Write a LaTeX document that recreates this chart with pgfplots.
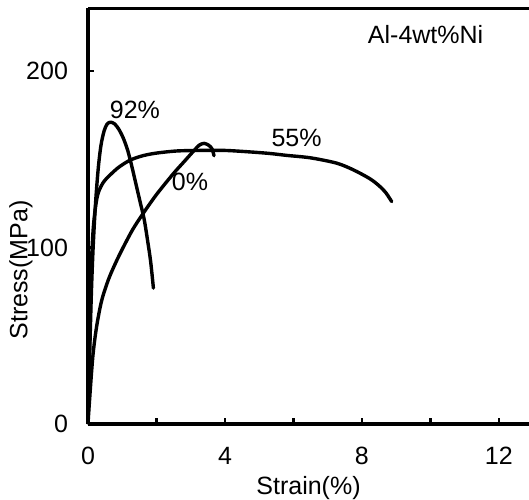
\documentclass[border=0pt]{standalone}
\usepackage{fontspec}
\setmainfont{Liberation Sans}
\usepackage{pgfplots}
\pgfplotsset{compat=1.18}

\begin{document}
\begin{tikzpicture}
\begin{axis}[name=ax,scale only axis,width=220.5pt,height=208pt,
xmin=0,xmax=12.88,ymin=0,ymax=235.7,
axis lines*=left,axis line style={-,line width=1.8pt},
xtick={0,2,...,12},xticklabels={0,,4,,8,,12},
ytick={0,100,200},
tick align=inside,major tick length=3.2pt,tick style={line width=1.3pt,black},
/pgf/number format/assume math mode=true,
tick label style={font=\fontsize{12.5}{14}\selectfont},
yticklabel style={xshift=-6.5pt},
xticklabel style={yshift=-8pt},
label style={font=\fontsize{12.5}{14}\selectfont},
xlabel={Strain(\%)},ylabel={Stress(MPa)},
every axis x label/.append style={at={(axis description cs:0.5,-0.153)},anchor=center},
every axis y label/.append style={at={(axis description cs:-0.152,0.37)},anchor=center},
curve/.style={black,line width=1.7pt,line cap=round,line join=round,no marks,smooth}]

% 92%
\addplot[curve] coordinates {(0,0) (0.05,40) (0.1,75) (0.15,100) (0.22,125) (0.3,145) (0.38,158) (0.47,166) (0.56,170) (0.66,171) (0.78,170) (0.9,167) (1.03,162) (1.16,155) (1.28,146) (1.4,136) (1.52,126) (1.64,116) (1.74,104) (1.83,92) (1.91,77)};
% 55%
\addplot[curve] coordinates {(0,0) (0.05,50) (0.1,90) (0.15,110) (0.22,123) (0.3,131) (0.45,137) (0.64,141) (0.9,145.5) (1.23,149.5) (1.6,152) (2.0,153.5) (2.6,154.7) (3.3,155) (4.0,155) (4.7,154.2) (5.3,153.3) (5.8,152.2) (6.5,150.8) (7.26,147.8) (7.75,144) (8.23,139) (8.5,135) (8.7,131) (8.87,126)};
% 0%
\addplot[curve] coordinates {(0,0) (0.04,12) (0.14,38) (0.25,55) (0.4,70) (0.6,82) (0.8,91) (1.0,99) (1.3,110) (1.6,119) (2.0,130) (2.5,142) (2.8,148.5) (3.1,155) (3.25,158) (3.39,159) (3.52,158) (3.62,156) (3.68,152)};

\node[font=\fontsize{12.5}{14}\selectfont] at (axis cs:1.37,178) {92\%};
\node[font=\fontsize{12.5}{14}\selectfont] at (axis cs:6.09,162) {55\%};
\node[font=\fontsize{12.5}{14}\selectfont] at (axis cs:2.98,137) {0\%};
\node[font=\fontsize{12.5}{14}\selectfont] at (axis cs:9.86,220.5) {Al-4wt\%Ni};

\draw[line width=1.8pt] (rel axis cs:0,1) -- (rel axis cs:1,1);
\coordinate (sw) at (rel axis cs:0,0);
\coordinate (ne) at (rel axis cs:1,1);
\end{axis}
\pgfresetboundingbox
\path[use as bounding box] ([xshift=-44pt,yshift=-37.5pt]sw) rectangle ([yshift=4pt]ne);
\end{tikzpicture}
\end{document}
